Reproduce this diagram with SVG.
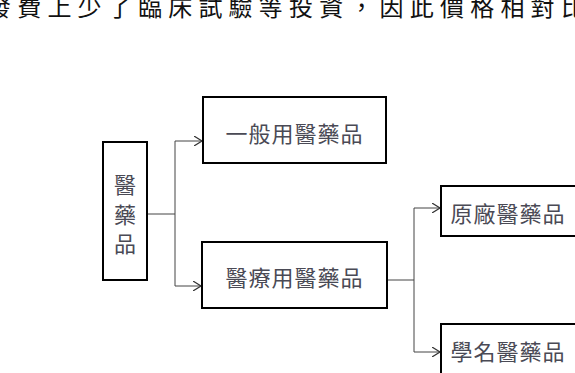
<svg xmlns="http://www.w3.org/2000/svg" width="575" height="373" viewBox="0 0 575 373">
<style>
.box{fill:#fff;stroke:#000;stroke-width:2}
.lbl{font-family:"Noto Sans CJK TC","Noto Sans CJK SC",sans-serif;font-size:22px;fill:#4a4a55;text-anchor:middle;dominant-baseline:central}
.top{font-family:"Noto Sans CJK TC","Noto Sans CJK SC",serif;font-size:24px;fill:#111}
.conn{fill:none;stroke:#444;stroke-width:1}
</style>
<defs>
<marker id="arr" viewBox="0 0 8 10" refX="8" refY="5" markerWidth="8" markerHeight="10" markerUnits="userSpaceOnUse" orient="auto">
<path d="M0,0 L8,5 L0,10" fill="none" stroke="#333" stroke-width="1.2"/>
</marker>
</defs>
<text class="top" x="-13" y="16" letter-spacing="6.2">發費上少了臨床試驗等投資，因此價格相對比</text>
<g id="connectors">
<path class="conn" d="M147,214 H175"/>
<path class="conn" d="M175,141 V286"/>
<path class="conn" d="M175,141 H202" marker-end="url(#arr)"/>
<path class="conn" d="M175,286 H201" marker-end="url(#arr)"/>
<path class="conn" d="M387,280 H414"/>
<path class="conn" d="M414,208 V352"/>
<path class="conn" d="M414,208 H440" marker-end="url(#arr)"/>
<path class="conn" d="M414,352 H440" marker-end="url(#arr)"/>
</g>
<g id="node-medicine">
<rect class="box" x="103" y="142" width="44" height="138"/>
<text class="lbl" x="125" y="183">醫</text>
<text class="lbl" x="125" y="213">藥</text>
<text class="lbl" x="125" y="242">品</text>
</g>
<g id="node-general">
<rect class="box" x="203" y="97" width="183" height="66"/>
<text class="lbl" x="294.5" y="132" letter-spacing="1">一般用醫藥品</text>
</g>
<g id="node-medical">
<rect class="box" x="202" y="242" width="185" height="66"/>
<text class="lbl" x="294.5" y="276" letter-spacing="1">醫療用醫藥品</text>
</g>
<g id="node-original">
<rect class="box" x="441" y="186" width="140" height="50"/>
<text class="lbl" x="508" y="212" letter-spacing="1">原廠醫藥品</text>
</g>
<g id="node-generic">
<rect class="box" x="441" y="324" width="140" height="56"/>
<text class="lbl" x="508" y="350" letter-spacing="1">學名醫藥品</text>
</g>
</svg>
